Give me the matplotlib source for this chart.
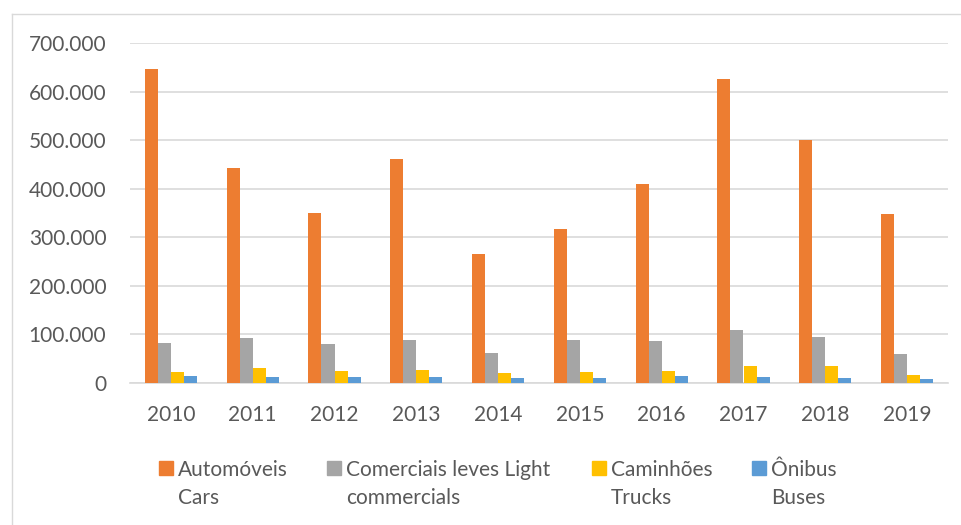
import matplotlib.pyplot as plt
import numpy as np
from matplotlib.patches import Rectangle
from matplotlib.ticker import FuncFormatter

years = ["2010", "2011", "2012", "2013", "2014", "2015", "2016", "2017", "2018", "2019"]
cars = [646000, 442000, 351000, 461000, 265000, 317000, 409000, 625000, 501000, 347000]
light = [82000, 92000, 80000, 88000, 61000, 89000, 87000, 110000, 94000, 60000]
trucks = [22000, 31000, 25500, 27500, 21000, 23000, 24000, 34000, 34000, 16500]
buses = [13500, 13000, 11500, 13000, 10000, 11000, 13500, 13000, 11000, 8500]

series = [cars, light, trucks, buses]
labels = ["Automóveis\nCars", "Comerciais leves Light\ncommercials", "Caminhões\nTrucks", "Ônibus\nBuses"]
colors = ["#ED7D31", "#A5A5A5", "#FFC000", "#5B9BD5"]

plt.rcParams['font.family'] = ['Lato', 'DejaVu Sans']
text_col = "#595959"
grid_col = "#D9D9D9"
fs = 15

W, H = 962, 525
fig = plt.figure(figsize=(W / 100, H / 100), dpi=100)
ax = fig.add_axes([130 / W, 1 - 383 / H, (948 - 130) / W, (383 - 43) / H])

x = np.arange(len(years))
bw = 0.16
for i, (vals, col) in enumerate(zip(series, colors)):
    ax.bar(x + (i - 1.5) * bw, vals, width=bw, color=col, zorder=3)

ax.set_xlim(-0.5, len(years) - 0.5)
ax.set_ylim(0, 700000)
ax.set_yticks(np.arange(0, 700001, 100000))
ax.yaxis.set_major_formatter(FuncFormatter(lambda v, p: "0" if v == 0 else f"{int(v):,}".replace(",", ".")))
ax.set_xticks(x)
ax.set_xticklabels(years)
ax.tick_params(axis='both', length=0, labelsize=fs, colors=text_col)
ax.tick_params(axis='y', pad=17)
ax.tick_params(axis='x', pad=16)
ax.grid(axis='y', color=grid_col, linewidth=1.2, zorder=0)
for s in ["top", "right", "left"]:
    ax.spines[s].set_visible(False)
ax.spines["bottom"].set_color(grid_col)
ax.spines["bottom"].set_linewidth(1.2)

# chart frame (only top and left edges fall inside the image)
fig.add_artist(plt.Line2D([11.5 / W, 11.5 / W], [0, 1 - 14 / H], transform=fig.transFigure, color=grid_col, lw=1))
fig.add_artist(plt.Line2D([11.5 / W, 1], [1 - 14 / H, 1 - 14 / H], transform=fig.transFigure, color=grid_col, lw=1))

# legend
box_x = [159, 327, 592, 752]
for bx, lab, col in zip(box_x, labels, colors):
    fig.add_artist(Rectangle((bx / W, 1 - 475 / H), 14 / W, 14 / H, transform=fig.transFigure, color=col))
    fig.text((bx + 19) / W, 1 - 484 / H, lab, ha="left", va="center", fontsize=fs, color=text_col,
             linespacing=1.55, transform=fig.transFigure)

fig.savefig("out.png", dpi=100)
